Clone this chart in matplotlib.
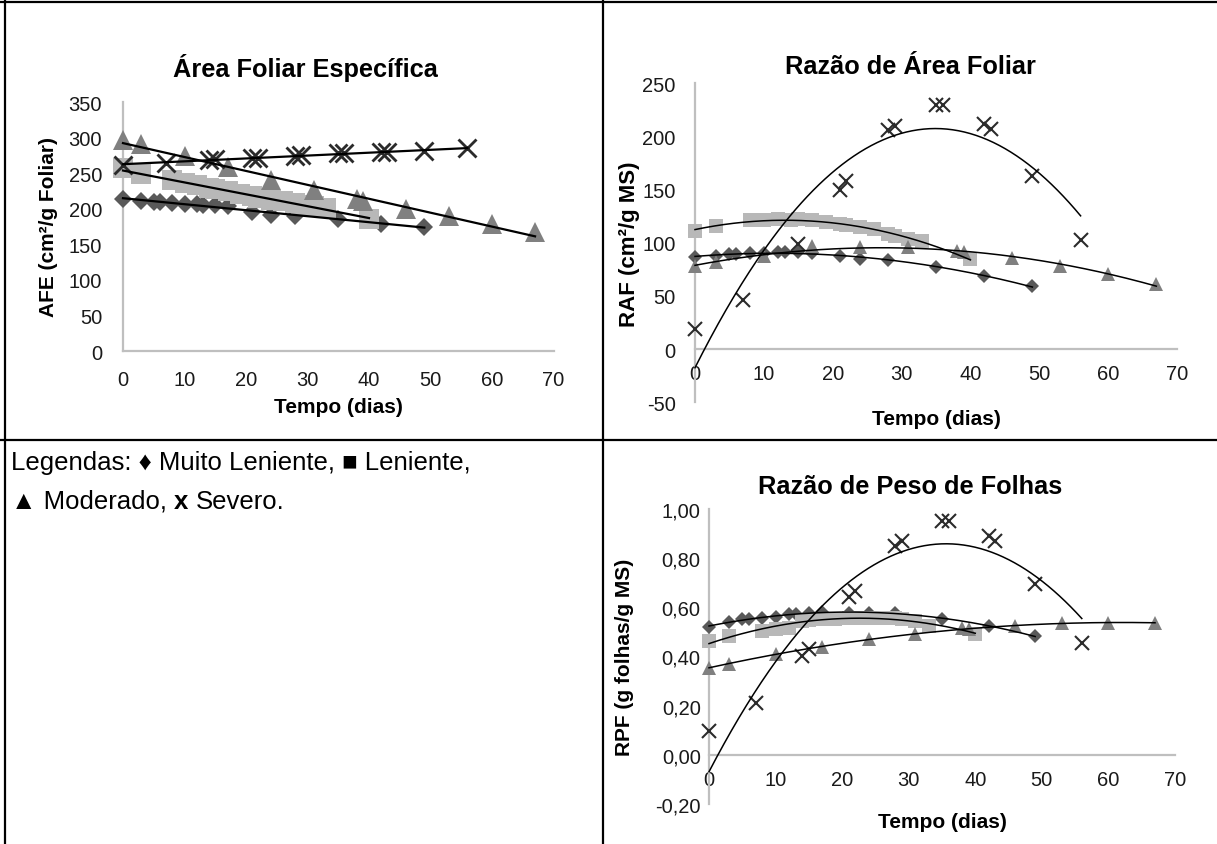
import numpy as np
import matplotlib.pyplot as plt
from matplotlib.lines import Line2D

plt.rcParams['font.family'] = ['Liberation Sans', 'DejaVu Sans']

W, H = 1217, 845

# Dias de coleta de cada tratamento
dias_ml = [0, 3, 5, 6, 8, 10, 12, 13, 15, 17, 21, 24, 28, 35, 42, 49]
dias_l = [0, 3, 8, 10, 12, 14, 15, 17, 19, 21, 22, 24, 26, 28, 29, 31, 33, 40]
dias_mo = [0, 3, 10, 17, 24, 31, 38, 39, 46, 53, 60, 67]
dias_s = [0, 7, 14, 15, 21, 22, 28, 29, 35, 36, 42, 43, 49, 56]
dias_s_raf = [0, 7, 15, 21, 22, 28, 29, 35, 36, 42, 43, 49, 56]

# Área Foliar Específica (cm²/g)
afe_ml = [214, 211, 210, 209, 208, 207.5, 206.5, 206, 205, 203.5, 196, 192, 190, 186, 179, 174]
afe_l = [257, 249, 241, 236, 233, 230, 228, 225, 221, 218, 216, 213, 211, 208, 206, 204, 201, 186]
afe_mo = [297, 292, 274, 259, 241, 226, 214, 211, 200, 190, 179, 168]
afe_s = [262, 264, 269, 270, 271, 272, 275, 276, 278, 278, 280, 280, 281, 285]

# Razão de Área Foliar (cm²/g MS)
raf_ml = [87, 88, 89, 89, 90, 90, 91, 91, 91, 90, 88, 85, 84, 77, 69, 59]
raf_l = [111, 116, 121, 121, 122, 121, 122, 121, 120, 117.6, 116.6, 114.5, 113, 108, 106.6, 104, 102, 85]
raf_mo = [78, 81.5, 88, 97, 95.6, 95.6, 92.5, 91, 86, 78.4, 70.6, 61]
raf_s = [19, 46, 99, 150, 158, 206, 210, 230, 230, 212, 207, 163, 103]

# Razão de Peso de Folhas (g folhas/g MS)
rpf_ml = [0.52, 0.54, 0.551, 0.554, 0.558, 0.562, 0.571, 0.574, 0.578, 0.58, 0.578, 0.578, 0.578, 0.553, 0.524, 0.483]
rpf_l = [0.462, 0.483, 0.505, 0.51, 0.515, 0.545, 0.55, 0.552, 0.553, 0.558, 0.558, 0.558, 0.558, 0.556, 0.552, 0.545, 0.525, 0.49]
rpf_mo = [0.355, 0.37, 0.41, 0.44, 0.47, 0.49, 0.515, 0.51, 0.525, 0.537, 0.537, 0.537]
rpf_s = [0.095, 0.21, 0.40, 0.43, 0.64, 0.665, 0.85, 0.87, 0.95, 0.95, 0.89, 0.87, 0.695, 0.455]

x_ticks = [0, 10, 20, 30, 40, 50, 60, 70]
afe_ticks = [0, 50, 100, 150, 200, 250, 300, 350]
raf_ticks = [-50, 0, 50, 100, 150, 200, 250]
rpf_ticks = [-0.2, 0.0, 0.2, 0.4, 0.6, 0.8, 1.0]
rpf_labels = ['-0,20', '0,00', '0,20', '0,40', '0,60', '0,80', '1,00']
raf_labels = ['-50', '0', '50', '100', '150', '200', '250']

cor_ml, cor_l, cor_mo, cor_s = '#595959', '#b8b8b8', '#808080', '#2b2b2b'
cinza_eixo = '#bfbfbf'

fig = plt.figure(figsize=(W / 100, H / 100), dpi=100)


def eixo_px(x0, x1, y_top, y_bot):
    return fig.add_axes([x0 / W, 1 - y_bot / H, (x1 - x0) / W, (y_bot - y_top) / H])


def estilo(ax, xpad, ypad):
    for s in ['top', 'right']:
        ax.spines[s].set_visible(False)
    for s in ['left', 'bottom']:
        ax.spines[s].set_color(cinza_eixo)
        ax.spines[s].set_linewidth(1.6)
    ax.set_xlim(0, 70)
    ax.set_xticks(x_ticks)
    ax.tick_params(axis='x', length=0, pad=xpad, labelsize=14.5, colors='#1a1a1a')
    ax.tick_params(axis='y', length=0, pad=ypad, labelsize=14.5, colors='#1a1a1a')
    ax.patch.set_alpha(0)


def series(ax, dados, k, grau, lw):
    specs = [('D', cor_ml, 6.7 * k), ('s', cor_l, 10.5 * k), ('^', cor_mo, 10.5 * k), ('x', cor_s, 10 * k)]
    for (x, y), (m, c, ms) in zip(dados, specs):
        if m == 'x':
            ax.plot(x, y, ls='none', marker=m, ms=ms, mew=1.5 * k, color=c, clip_on=False, zorder=3)
        else:
            ax.plot(x, y, ls='none', marker=m, ms=ms, mew=0, color=c, clip_on=False, zorder=3)
    # linhas de tendência (como no Excel)
    for x, y in dados:
        coef = np.polyfit(x, y, grau)
        xs = np.linspace(min(x), max(x), 200)
        ax.plot(xs, np.polyval(coef, xs), color='black', lw=lw, zorder=5, clip_on=False)


def rotulos(titulo, tx, ty, ylab, yx, yy, xx, xy, ysize=15):
    fig.text(tx / W, 1 - ty / H, titulo, ha='center', va='center', fontsize=18.3, fontweight='bold')
    fig.text(xx / W, 1 - xy / H, 'Tempo (dias)', ha='center', va='center', fontsize=15, fontweight='bold')
    fig.text(yx / W, 1 - yy / H, ylab, ha='center', va='center', rotation=90, fontsize=ysize, fontweight='bold')


# Área Foliar Específica
ax1 = eixo_px(123, 553.5, 103.3, 352)
estilo(ax1, 14, 15)
ax1.set_ylim(0, 350)
ax1.set_yticks(afe_ticks)
series(ax1, [(dias_ml, afe_ml), (dias_l, afe_l), (dias_mo, afe_mo), (dias_s, afe_s)], 1.35, 1, 1.6)
rotulos('Área Foliar Específica', 305, 68, 'AFE (cm²/g Foliar)', 49, 227, 338, 408)

# Razão de Área Foliar
ax2 = eixo_px(695, 1177, 84.3, 403.3)
estilo(ax2, 11, 14)
ax2.spines['bottom'].set_position(('data', 0))
ax2.set_ylim(-50, 250)
ax2.set_yticks(raf_ticks)
ax2.set_yticklabels(raf_labels)
series(ax2, [(dias_ml, raf_ml), (dias_l, raf_l), (dias_mo, raf_mo), (dias_s_raf, raf_s)], 1.0, 2, 1.1)
rotulos('Razão de Área Foliar', 910, 67, 'RAF (cm²/g MS)', 629, 244, 936, 420, 16)

# Razão de Peso de Folhas
ax3 = eixo_px(709, 1175, 510, 805)
estilo(ax3, 11, 6)
ax3.spines['bottom'].set_position(('data', 0))
ax3.set_ylim(-0.2, 1.0)
ax3.set_yticks(rpf_ticks)
ax3.set_yticklabels(rpf_labels)
series(ax3, [(dias_ml, rpf_ml), (dias_l, rpf_l), (dias_mo, rpf_mo), (dias_s, rpf_s)], 1.0, 2, 1.1)
rotulos('Razão de Peso de Folhas', 910, 487, 'RPF (g folhas/g MS)', 625, 657, 942, 823)

# Linhas da tabela
for xs, ys in [([0, W], [3, 3]), ([5, 5], [0, H]), ([603, 603], [0, H]), ([0, W], [441, 441])]:
    fig.add_artist(Line2D([x / W for x in xs], [1 - y / H for y in ys], color='black', lw=1.6))

# Texto da legenda
leg = dict(fontsize=18.5, va='center')
fig.text(11 / W, 1 - 463 / H, 'Legendas: ♦ Muito Leniente, ■ Leniente,', **leg)
r = fig.canvas.get_renderer()
a1 = fig.text(0, 0, 'aa', **leg).get_window_extent(r).width
a2 = fig.text(0, 0, 'a a', **leg).get_window_extent(r).width
esp = a2 - a1
for t in fig.texts[-2:]:
    t.remove()
y2 = 1 - 502 / H
p1 = fig.text(11 / W, y2, '▲ Moderado,', **leg)
x_b = p1.get_window_extent(r).x1 + esp
p2 = fig.text(x_b / W, y2, 'x', fontweight='bold', **leg)
x_c = p2.get_window_extent(r).x1 + esp
fig.text(x_c / W, y2, 'Severo.', **leg)

fig.savefig('out.png', dpi=100)
